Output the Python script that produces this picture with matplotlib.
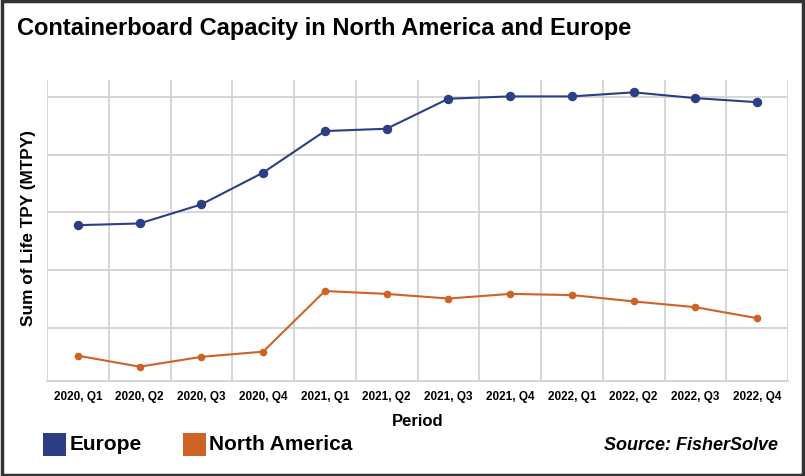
import matplotlib
matplotlib.use("Agg")
import matplotlib.pyplot as plt
from matplotlib.patches import Rectangle
import numpy as np

periods = ["2020, Q1", "2020, Q2", "2020, Q3", "2020, Q4",
           "2021, Q1", "2021, Q2", "2021, Q3", "2021, Q4",
           "2022, Q1", "2022, Q2", "2022, Q3", "2022, Q4"]
europe = [27.8, 28.1, 31.4, 36.9, 44.1, 44.5, 49.7, 50.1, 50.1, 50.8, 49.8, 49.1]
north_america = [5.2, 3.3, 5.0, 5.9, 16.4, 15.9, 15.1, 15.9, 15.7, 14.6, 13.6, 11.7]
y_grid = [10, 20, 30, 40, 50]

c_eu = "#2c3f84"
c_na = "#cf6226"
grid_c = "#d3d3d3"

plt.rcParams['font.family'] = ['Liberation Sans', 'DejaVu Sans']

fig = plt.figure(figsize=(8.05, 4.76), dpi=100)
ax = fig.add_axes([47/805, 95/476, 741/805, 301/476])

x = np.arange(len(periods))
ax.plot(x, europe, color=c_eu, lw=1.5, marker='o', ms=5.8, zorder=3)
ax.plot(x, north_america, color=c_na, lw=1.5, marker='o', ms=4.5, zorder=3)

ax.set_xlim(-0.5, len(periods) - 0.5)
ax.set_ylim(0.82, 52.94)
ax.set_xticks(x)
ax.set_xticklabels(periods, fontsize=8.5, fontweight='bold')
ax.set_xticks(np.arange(-0.5, len(periods), 1.0), minor=True)
ax.set_yticks(y_grid)
ax.set_yticklabels([])
ax.tick_params(axis='both', which='both', length=0)
ax.tick_params(axis='x', pad=7)
ax.grid(True, which='minor', axis='x', color=grid_c, lw=1.3)
ax.grid(True, which='major', axis='y', color=grid_c, lw=1.3)
for s in ['top', 'left', 'right']:
    ax.spines[s].set_visible(False)
ax.spines['bottom'].set_color(grid_c)
ax.spines['bottom'].set_linewidth(1.3)

ax.set_xlabel("Period", fontsize=12, fontweight='bold', va='center')
ax.xaxis.set_label_coords(0.5, (381 - 421) / 301)
ax.set_ylabel("Sum of Life TPY (MTPY)", fontsize=12.4, fontweight='bold', va='center')
ax.yaxis.set_label_coords((28 - 47) / 741, (381 - 228) / 301)

fig.text(17/805, 1 - 29/476, "Containerboard Capacity in North America and Europe",
         fontsize=17, fontweight='bold', ha='left', va='center')

# legend
fig.patches.append(Rectangle((43/805, 1 - 456/476), 23/805, 23/476,
                             transform=fig.transFigure, facecolor=c_eu, edgecolor='none'))
fig.text(70/805, 1 - 444/476, "Europe", fontsize=15, fontweight='bold', ha='left', va='center')
fig.patches.append(Rectangle((183/805, 1 - 456/476), 23/805, 23/476,
                             transform=fig.transFigure, facecolor=c_na, edgecolor='none'))
fig.text(209/805, 1 - 444/476, "North America", fontsize=15, fontweight='bold', ha='left', va='center')

fig.text(778/805, 1 - 446/476, "Source: FisherSolve", fontsize=13, fontweight='bold',
         style='italic', ha='right', va='center')

# outer frame
fig.patches.append(Rectangle((0.002, 0.003), 0.996, 0.994, transform=fig.transFigure,
                             facecolor='none', edgecolor='#333333', lw=2.5))

fig.savefig("out.png", dpi=100, facecolor='white')
